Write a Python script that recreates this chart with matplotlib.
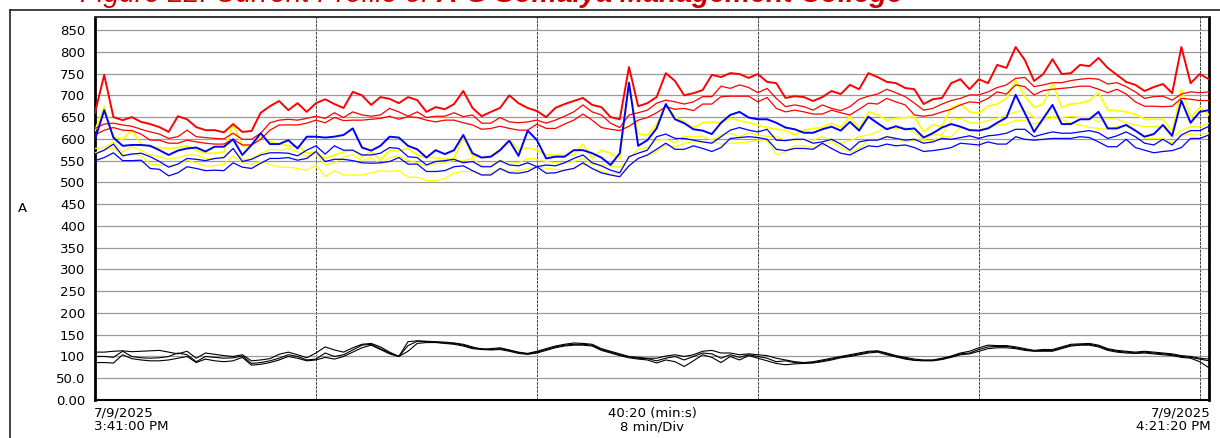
import numpy as np
import matplotlib
matplotlib.use("Agg")
import matplotlib.pyplot as plt
from matplotlib.lines import Line2D
from matplotlib.ticker import FixedLocator, FuncFormatter

# ---------------- data (A), one sample every 20 s, 3:41:00 PM -> 4:21:20 PM ----------------
SAMPLE_S = 20

red_1 = [660,747,650,643,650,639,634,627,616,652,645,627,620,620,615,634,616,618,660,675,687,666,682,662,682,691,680,671,708,700,678,696,692,
         682,696,689,662,673,668,680,710,671,652,662,671,700,682,671,664,650,671,680,687,694,678,673,650,645,765,675,682,696,751,733,700,
         705,712,747,742,751,749,740,749,731,728,694,698,696,687,696,710,703,724,714,751,742,731,728,717,714,680,691,694,728,737,
         714,737,728,770,763,811,781,733,749,783,749,751,770,767,786,763,747,731,724,710,719,726,705,811,728,749,737]
red_2 = [624,634,636,632,629,622,616,611,601,605,620,605,603,601,600,613,599,599,613,637,643,645,643,647,652,647,660,649,662,655,652,655,670,
         662,652,662,649,652,652,660,651,655,636,636,649,639,637,639,643,636,643,652,662,678,662,655,636,626,655,660,666,682,689,685,
         680,685,697,697,721,716,724,718,706,716,693,674,678,674,666,678,670,665,674,691,698,703,714,706,697,682,666,670,680,688,693,
         701,701,708,718,724,739,741,720,724,729,729,734,737,739,737,726,729,720,708,693,697,698,689,703,708,706,708]
red_3 = [609,620,626,620,619,611,597,597,590,590,597,593,590,588,588,599,586,586,599,620,632,632,632,636,643,637,649,642,643,643,645,647,652,
         645,651,649,643,639,643,643,637,632,622,624,629,624,620,620,634,624,624,634,643,657,643,626,622,619,629,643,649,660,674,668,
         670,665,680,680,697,698,698,698,685,695,670,662,666,662,657,657,666,660,655,668,682,680,693,685,678,655,652,655,662,668,678,
         685,683,693,708,703,724,720,701,711,714,716,718,721,721,714,706,714,703,685,675,675,674,675,693,691,688,688]

yellow_1 = [619,674,605,599,620,588,582,580,578,580,584,574,567,567,570,634,584,584,605,593,588,584,584,567,570,555,563,570,574,559,570,551,574,
            573,578,563,557,557,553,555,605,561,557,561,576,599,574,580,574,563,563,561,563,588,555,574,567,555,724,611,609,632,678,651,
            639,626,637,639,636,647,642,637,632,626,622,620,609,620,624,626,636,626,652,622,662,655,643,647,649,651,616,632,629,
            672,680,662,659,675,680,693,734,698,672,680,729,672,680,682,688,706,666,665,662,657,645,645,645,616,714,649,672,655]
yellow_2 = [578,580,593,570,582,574,563,559,553,557,563,563,555,553,559,578,553,553,567,576,574,578,570,559,568,540,545,559,563,550,557,542,557,
            561,551,545,538,544,545,551,550,555,538,538,551,544,545,555,553,548,545,544,548,555,542,540,538,535,555,576,580,597,599,591,
            606,605,606,597,609,613,605,614,609,606,605,597,597,599,597,605,597,590,596,605,609,616,626,624,626,616,597,609,609,
            645,647,637,636,642,647,655,662,665,649,649,652,649,652,649,649,639,647,645,637,632,628,628,628,603,620,628,628,636]
yellow_3 = [568,574,580,563,567,561,542,540,538,542,551,545,538,538,542,561,545,542,548,542,535,535,532,528,540,513,527,517,517,517,522,527,525,
            527,512,512,504,504,509,522,525,525,517,521,532,525,527,532,536,532,530,528,532,542,532,525,519,521,538,555,561,571,586,582,
            590,593,593,593,588,590,591,593,597,597,563,570,584,584,580,584,593,580,570,578,597,597,606,601,593,597,597,596,605,
            605,626,622,620,626,632,634,643,642,634,643,649,645,636,632,626,624,622,628,629,622,601,601,601,590,607,611,611,613]

blue_1 = [599,666,603,584,586,586,584,574,563,573,578,580,571,582,582,599,563,586,613,588,588,597,578,605,605,603,605,609,624,580,573,584,605,
          603,584,576,557,574,565,574,609,567,557,559,574,596,561,619,597,555,559,559,574,574,567,557,540,567,729,584,597,624,680,645,
          636,622,619,611,637,655,662,649,645,645,637,626,622,614,614,622,628,619,639,619,651,636,622,629,622,624,603,613,626,
          634,628,620,619,624,637,649,701,659,616,647,678,634,634,645,645,662,624,624,632,619,605,611,632,607,688,637,662,666]
blue_2 = [565,574,588,561,565,567,559,548,535,542,555,553,550,555,557,578,548,553,563,568,568,567,561,574,584,565,584,574,574,563,563,567,580,
          578,559,557,540,548,550,553,545,548,536,536,550,540,538,545,536,540,538,545,555,563,545,538,528,522,559,567,574,605,611,601,
          601,597,593,590,605,620,626,620,616,622,597,596,599,599,590,593,599,588,574,593,597,597,605,601,597,599,590,593,601,
          599,603,607,601,607,609,613,622,622,605,611,616,613,613,616,619,614,601,607,616,605,590,586,599,586,609,619,619,629]
blue_3 = [550,557,568,550,550,551,532,530,515,522,536,532,527,528,527,545,535,532,544,555,555,557,551,555,571,548,553,553,550,545,544,545,548,
          557,542,542,525,525,527,536,538,527,517,517,532,522,521,525,536,521,522,528,532,545,532,522,517,513,538,555,563,576,590,576,
          576,584,578,571,580,601,603,605,603,599,576,573,578,578,576,590,578,567,563,574,584,582,588,584,586,580,571,573,576,
          580,590,588,586,593,588,588,605,599,597,599,601,601,601,605,603,593,582,582,599,580,574,568,571,573,580,601,601,609]

neutral_1 = [110,110,112,113,111,112,113,114,110,106,112,96,108,105,102,100,104,90,92,95,105,110,104,97,108,122,115,110,120,128,
             130,122,110,100,134,136,135,134,133,131,128,122,116,118,120,115,110,107,112,118,124,128,131,130,128,118,112,106,100,98,96,
             96,101,104,100,104,112,114,108,108,104,106,104,102,96,92,88,86,88,92,96,100,104,108,112,113,108,102,98,94,92,
             92,96,101,108,112,120,126,125,125,122,118,114,116,116,122,128,129,130,126,118,114,112,110,112,110,108,106,102,100,96,94]
neutral_2 = [100,100,98,112,100,97,96,97,100,108,104,88,100,98,96,97,101,84,86,90,96,104,100,92,94,108,100,104,115,126,
             128,118,108,100,125,135,134,133,131,130,126,120,118,116,118,114,109,106,110,116,122,126,128,128,126,116,110,104,99,96,95,
             90,96,100,92,100,108,106,96,104,98,104,100,96,88,90,86,85,86,90,94,99,102,106,110,112,106,100,96,92,91,
             91,94,100,106,108,116,122,123,123,120,116,113,114,114,120,126,127,128,124,116,112,110,108,110,108,106,104,100,98,94,90]
neutral_3 = [86,86,85,104,95,92,90,90,92,96,100,86,94,90,88,90,98,80,82,86,92,100,96,90,92,98,94,100,110,120,
             126,116,106,100,112,130,132,132,130,128,124,118,116,115,116,112,107,105,108,114,120,124,126,126,124,114,108,102,97,94,92,
             85,92,88,77,90,104,98,86,100,92,102,96,90,84,81,83,84,85,88,92,97,100,104,108,110,104,99,94,91,90,
             90,93,98,104,106,112,118,120,120,118,114,112,112,112,118,124,126,126,122,114,110,108,107,108,106,104,102,98,96,88,74]

y_ticks = list(range(0, 851, 50))
div_minutes = 8
left_label = "7/9/2025\n3:41:00 PM"
center_label = "40:20 (min:s)\n8 min/Div"
right_label = "7/9/2025\n4:21:20 PM"
title_a = "Figure 22: Current Profile of "
title_b = "A-G Somaiya Management College"

# ---------------- figure ----------------
W, H = 1220, 438
fig = plt.figure(figsize=(W / 100, H / 100), dpi=100)
fig.patch.set_facecolor("white")

ax_l, ax_r, ax_t, ax_b = 95, 1209, 17, 400
ax = fig.add_axes([ax_l / W, (H - ax_b) / H, (ax_r - ax_l) / W, (ax_b - ax_t) / H])

t = np.arange(len(red_1)) * SAMPLE_S / 60.0
FONT = "DejaVu Sans"

for s, lw in ((neutral_1, 0.8), (neutral_2, 0.8), (neutral_3, 0.8)):
    ax.plot(t, s, color="black", lw=lw, zorder=3)
for s, lw in ((yellow_3, 0.9), (yellow_2, 0.9), (yellow_1, 1.3)):
    ax.plot(t, s, color="#FFFF00", lw=lw, zorder=4)
for s, lw in ((red_3, 0.9), (red_2, 0.9), (red_1, 1.4)):
    ax.plot(t, s, color="#FF0000", lw=lw, zorder=5)
for s, lw in ((blue_3, 0.9), (blue_2, 0.9), (blue_1, 1.4)):
    ax.plot(t, s, color="#0000FF", lw=lw, zorder=6)

ax.set_xlim(0, t[-1])
ax.set_ylim(0, 880)

ax.yaxis.set_major_locator(FixedLocator(y_ticks))
def yfmt(v, pos):
    if v == 0:
        return "0.00"
    if v < 100:
        return "%.1f" % v
    return "%d" % v
ax.yaxis.set_major_formatter(FuncFormatter(yfmt))
ax.xaxis.set_major_locator(FixedLocator(np.arange(div_minutes, t[-1], div_minutes)))
ax.set_xticklabels([])
ax.tick_params(axis="both", length=0)
ax.tick_params(axis="y", pad=7, labelsize=9.5)
for lab in ax.get_yticklabels():
    lab.set_family(FONT)

ax.yaxis.grid(True, color="#9a9a9a", lw=0.9, zorder=1)
ax.xaxis.grid(True, color="#404040", lw=0.7, ls=(0, (3, 1)), zorder=1)
ax.set_axisbelow(True)

ax.spines["left"].set_linewidth(2.0)
ax.spines["left"].set_color("black")
ax.spines["bottom"].set_linewidth(1.5)
ax.spines["bottom"].set_color("black")
ax.spines["right"].set_linewidth(2.0)
ax.spines["right"].set_color("black")
ax.spines["top"].set_linewidth(1.4)
ax.spines["top"].set_color("#333333")

kw = dict(xycoords="axes fraction", textcoords="offset points", va="top",
          fontsize=9.5, family=FONT, linespacing=1.05)
ax.annotate(left_label, xy=(0, 0), xytext=(-1, -5), ha="left", **kw)
ax.annotate(center_label, xy=(0.5, 0), xytext=(0, -5), ha="center", multialignment="center", **kw)
ax.annotate(right_label, xy=(1, 0), xytext=(1, -5), ha="right", multialignment="right", **kw)

fig.text(22 / W, 1 - 208 / H, "A", ha="center", va="center", fontsize=9.5, family=FONT)

# outer frame (left and top edges visible)
fig.add_artist(Line2D([10 / W, 10 / W], [0, 1 - 10 / H], transform=fig.transFigure, color="#222222", lw=1.2))
fig.add_artist(Line2D([10 / W, 1], [1 - 10 / H, 1 - 10 / H], transform=fig.transFigure, color="#222222", lw=1.2))

# title (cut off at the top edge, as in the reference)
ty = 1 - 2.5 / H
ta = fig.text(80 / W, ty, title_a, color="#CC0000", fontsize=20.3, style="italic",
              family="Liberation Sans", va="baseline")
fig.canvas.draw()
bb = ta.get_window_extent()
fig.text(bb.x1 / W, ty, title_b, color="#CC0000", fontsize=20.3, style="italic", weight="bold",
         family="Liberation Sans", va="baseline")

fig.savefig("out.png", dpi=100)
